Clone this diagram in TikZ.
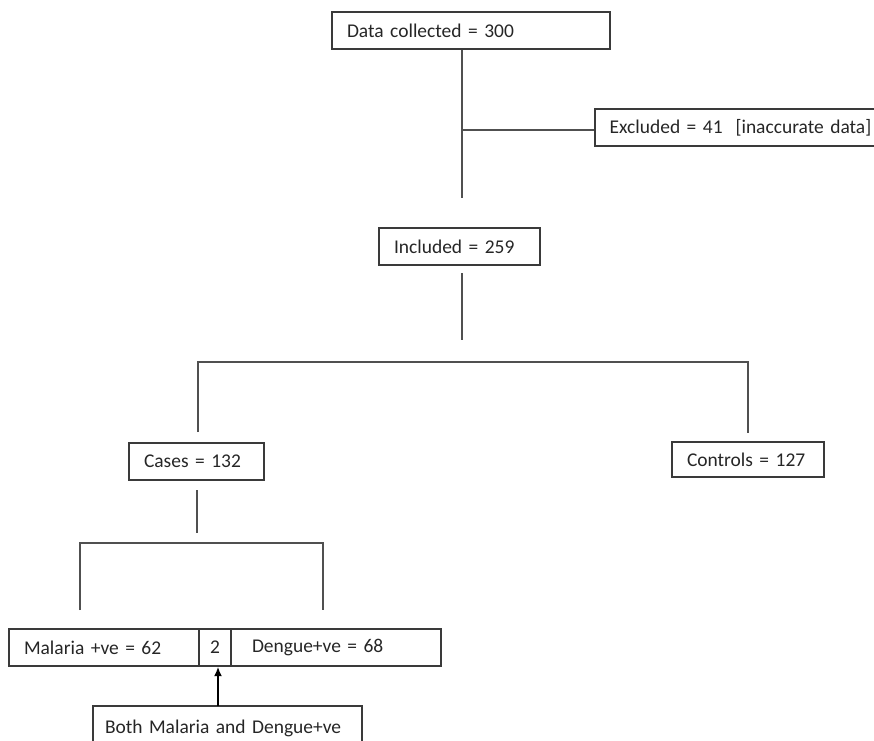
\documentclass[tikz,border=0pt]{standalone}
\usepackage{fontspec}
\setmainfont{Carlito}[WordSpace=0.55]
\usetikzlibrary{arrows.meta}
\definecolor{boxline}{HTML}{3A3A3A}
\definecolor{wirecol}{HTML}{505050}
\definecolor{txt}{HTML}{262626}
\tikzset{
  flowbox/.style={draw=boxline, line width=1.25pt, text=txt, align=left,
    inner xsep=11.25pt, inner ysep=0pt, minimum height=27.75pt,
    font=\fontsize{14.6}{17}\selectfont},
  wire/.style={draw=wirecol, line width=1.25pt},
}

\begin{document}
\begin{tikzpicture}[x=0.75pt, y=-0.75pt, >={Latex[length=7pt,width=6pt]}]
        \useasboundingbox (0,0) rectangle (874,740);
        \clip (0,0) rectangle (874,740);

        % Boxes
        \node[flowbox, text width=186pt] (data) at (471,30.5) {Data collected = 300};
        \node[flowbox, text width=200pt] (excl) at (743,127.5) {Excluded = 41~ [inaccurate data]};
        \node[flowbox, text width=98.25pt] (incl) at (459.5,246.5) {Included = 259};
        \node[flowbox, text width=78.75pt] (cases) at (196.5,461.5) {Cases = 132};
        \node[flowbox, text width=91.5pt, minimum height=26.25pt] (ctrl) at (748,459.5) {Controls = 127};

        % Split row of positives
        \node[flowbox, text width=120pt] (mal) at (104,647.5) {Malaria +ve = 62};
        \node[flowbox, align=center, inner xsep=0pt, minimum width=24pt] (two) at (215,647.5) {2};
        \node[flowbox, text width=126pt, inner xsep=15.75pt] (deng) at (336,647.5) {Dengue+ve = 68};
        \node[flowbox, text width=183.75pt, inner xsep=9pt, minimum height=34pt] (both) at (227.5,728.5) {Both Malaria and Dengue+ve};

        % Free ends of the lines
        \coordinate (dtail) at (462,198);
        \coordinate (xfork) at (462,130);
        \coordinate (itop) at (462,273);
        \coordinate (ibot) at (462,340);
        \coordinate (lsplit) at (198,362);
        \coordinate (rsplit) at (748,362);
        \coordinate (ctop) at (197,490);
        \coordinate (cbot) at (197,533);
        \coordinate (msplit) at (80,543);
        \coordinate (dsplit) at (323,543);
        \coordinate (arrtail) at (218,706);

        % Connectors
        \draw[wire] (data.south -| dtail) -- (dtail);
        \draw[wire] (xfork) -- (xfork -| excl.west);
        \draw[wire] (itop) -- (ibot);
        \draw[wire] (lsplit |- cases.north) ++(0,-10) -- (lsplit) -- (rsplit) -- ++(0,71);
        \draw[wire] (ctop) -- (cbot);
        \draw[wire] (msplit) ++(0,67) -- (msplit) -- (dsplit) -- ++(0,67);
        \draw[wire, draw=black, ->] (arrtail) -- (arrtail |- two.south);
\end{tikzpicture}
\end{document}
